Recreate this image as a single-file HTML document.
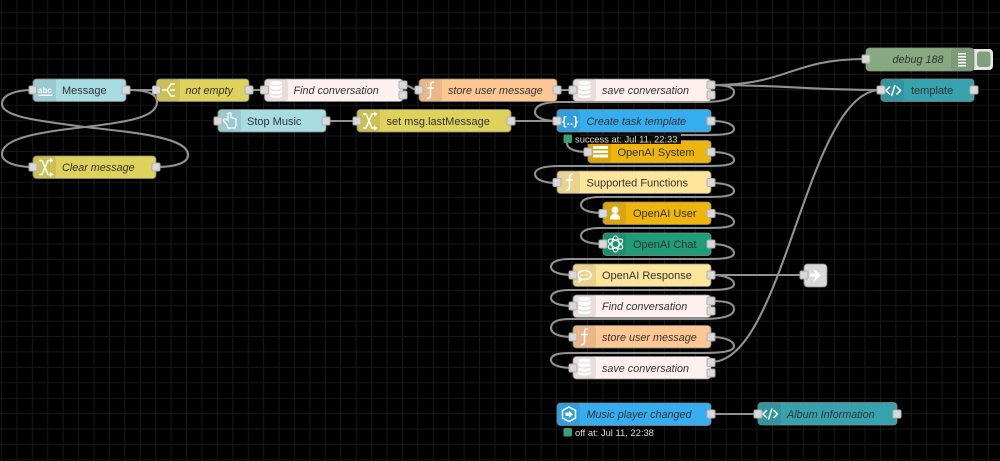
<!DOCTYPE html>
<html><head><meta charset="utf-8"><style>
html,body{margin:0;padding:0;background:#000;width:1000px;height:461px;overflow:hidden}
svg{display:block;filter:blur(.3px)}
text{font-family:"Liberation Sans",sans-serif;font-size:11px;fill:#333}
.i{font-style:italic;font-size:10.8px}
.w{fill:none;stroke:#929292;stroke-width:2.1}
.n{stroke:#8a8a8a;stroke-width:.8}
.s{fill:rgba(0,0,0,.08)}
.p{fill:#d9d9d9;stroke:#b0b0b0;stroke-width:1}
.ic{fill:none;stroke:#fff;stroke-width:1.5}
.if{fill:#fff}
.st{fill:#ddd;font-size:9.4px}
</style></head><body>
<svg width="1000" height="461" viewBox="0 0 1000 461" xmlns="http://www.w3.org/2000/svg">
<defs>
<pattern id="g" x="1" y="12.2" width="15.42" height="15.42" patternUnits="userSpaceOnUse">
<path d="M.5 0V15.42M0 .5H15.42" stroke="#181818" stroke-width="1" fill="none"/>
</pattern>
</defs>
<rect width="1000" height="461" fill="#000"/>
<rect width="1000" height="461" fill="url(#g)"/>

<!-- wires -->
<g class="w">
<path d="M126 90H156"/>
<path d="M126 90C148 90 157 94 157 102C157 118 125 122 85 127C40 132 2 138 2 154C2 162 15 167 33 167"/>
<path d="M156 167C175 167 188 163 188 155C188 138 140 133 85 127C40 121 2 117 2 104C2 95 15 90 33 90"/>
<path d="M249 90H264"/>
<path d="M403 85C411 85 411 90 419 90"/>
<path d="M557 90H573"/>
<path d="M326 121H357"/>
<path d="M511 121H557"/>
<path d="M711 85C790 85 790 59 866 59"/>
<path d="M711 85C790 85 800 90 881 90"/>
<path d="M711 85C727 85 734 87 734 92C734 100 720 102 700 102H560C545 102 535 105 535 112C535 118 545 121 557 121"/>
<path d="M711 121C725 121 734 124 734 129C734 135 720 135 700 135H580"/>
<path d="M567 143C567 149 575 152 588 152"/>
<path d="M711 152C725 152 734 155 734 160C734 166 720 166 700 166H560C545 166 535 168 535 174C535 180 545 183 557 183"/>
<path d="M711 183C725 183 734 186 734 191C734 197 720 197 700 197H600C590 197 581 199 581 205C581 210 590 213 603 213"/>
<path d="M711 213C725 213 734 217 734 222C734 228 720 228 700 228H600C590 228 581 230 581 236C581 241 590 244 603 244"/>
<path d="M711 244C725 244 734 248 734 253C734 259 720 259 700 259H570C560 259 551 261 551 267C551 272 560 275 573 275"/>
<path d="M711 275H804"/>
<path d="M711 275C725 275 734 279 734 284C734 290 720 290 700 290H570C560 290 551 292 551 298C551 303 560 306 573 306"/>
<path d="M711 301C727 301 734 303 734 309C734 317 720 319 700 319H570C560 319 551 321 551 328C551 334 560 337 573 337"/>
<path d="M711 337C725 337 734 341 734 346C734 352 720 353 700 353H570C560 353 551 354 551 360C551 365 560 368 573 368"/>
<path d="M711 362C785 362 806 90 881 90"/>
<path d="M711 414H758"/>
</g>

<!-- debug button -->
<rect x="970" y="49" width="23" height="21" rx="4" fill="#e6e6e6"/>
<rect x="977" y="51.500" width="13.500" height="15.500" rx="3" fill="#7ea07a"/>

<!-- Message -->
<rect class="n" x="33" y="79" width="93" height="22.500" rx="3.500" fill="#a6dce2"/>
<path class="s" d="M36.500 79H56V101.500H36.500A3.500 3.500 0 0 1 33 98V82.500A3.500 3.500 0 0 1 36.500 79Z"/>
<text x="62" y="94">Message</text>
<text x="38" y="93" style="fill:#fff;font-size:8px;font-weight:bold">abc</text>
<rect class="if" x="38.500" y="94.500" width="14" height="1.500"/>
<rect class="p" x="29" y="86" width="7.500" height="8" rx="1.500"/><rect class="p" x="122" y="86" width="8" height="8" rx="1.500"/>

<!-- not empty -->
<rect class="n" x="156.500" y="79" width="92.500" height="22.500" rx="3.500" fill="#ded15c"/>
<rect class="s" x="157" y="79" width="23" height="22.500" rx="3"/>
<path class="ic" d="M162 90H167L171 84H175M167 90L171 96H175M170 90H175"/>
<text class="i" x="185.500" y="94">not empty</text>
<rect class="p" x="152.500" y="86" width="8" height="8" rx="1.500"/><rect class="p" x="245" y="86" width="8" height="8" rx="1.500"/>

<!-- Find conversation 1 -->
<rect class="n" x="264.500" y="79" width="138.500" height="22.500" rx="3.500" fill="#fdf0ef"/>
<rect class="s" x="265" y="79" width="23" height="22.500" rx="3"/>
<ellipse class="if" cx="276" cy="83" rx="6" ry="2"/><path class="if" d="M270 85V88.500Q276 91 282 88.500V85Q276 87.500 270 85ZM270 90V93Q276 95.500 282 93V90Q276 92.500 270 90ZM270 94.500V97Q276 99 282 97V94.500Q276 97 270 94.500Z"/>
<text class="i" x="293.500" y="94">Find conversation</text>
<rect class="p" x="260.500" y="86" width="8" height="8" rx="1.500"/><rect class="p" x="399" y="81" width="8" height="8" rx="1.500"/><rect class="p" x="399" y="91" width="8" height="8" rx="1.500"/>

<!-- store user message 1 -->
<rect class="n" x="419" y="79" width="138" height="22.500" rx="3.500" fill="#fdc794"/>
<rect class="s" x="419" y="79" width="23" height="22.500" rx="3"/>
<path class="ic" d="M434 82.500C431 81.500 430.500 84 430.500 86V95C430.500 97 430 98.500 427 98M427 88H434"/>
<text class="i" x="448" y="94">store user message</text>
<rect class="p" x="415" y="86" width="8" height="8" rx="1.500"/><rect class="p" x="553" y="86" width="8" height="8" rx="1.500"/>

<!-- save conversation 1 -->
<rect class="n" x="573" y="79" width="138" height="22.500" rx="3.500" fill="#fdf0ef"/>
<rect class="s" x="573" y="79" width="23" height="22.500" rx="3"/>
<ellipse class="if" cx="584.500" cy="83" rx="6" ry="2"/><path class="if" d="M578.500 85V88.500Q584.500 91 590.500 88.500V85Q584.500 87.500 578.500 85ZM578.500 90V93Q584.500 95.500 590.500 93V90Q584.500 92.500 578.500 90ZM578.500 94.500V97Q584.500 99 590.500 97V94.500Q584.500 97 578.500 94.500Z"/>
<text class="i" x="602" y="94">save conversation</text>
<rect class="p" x="569" y="86" width="8" height="8" rx="1.500"/><rect class="p" x="707" y="81" width="8" height="8" rx="1.500"/><rect class="p" x="707" y="91" width="8" height="8" rx="1.500"/>

<!-- Stop Music -->
<rect class="n" x="218" y="109.500" width="108" height="22.500" rx="3.500" fill="#a6dce2"/>
<rect class="s" x="218" y="109.500" width="23" height="22.500" rx="3"/>
<path class="ic" style="stroke-width:1.200" d="M227 125L223 120L225 118.500L228 120.500V113.500Q229.500 112 231 113.500V117.500L236 119V125L235 128H228Z"/>
<text x="247" y="125">Stop Music</text>
<rect class="p" x="214" y="117" width="8" height="8" rx="1.500"/><rect class="p" x="322" y="117" width="8" height="8" rx="1.500"/>

<!-- set msg.lastMessage -->
<rect class="n" x="357" y="109.500" width="154" height="22.500" rx="3.500" fill="#ded15c"/>
<rect class="s" x="357" y="109.500" width="23" height="22.500" rx="3"/>
<path class="ic" d="M363 114H366L372 128H375M363 128H366L372 114H375"/><path class="if" d="M374 111.500L377.500 114L374 116.500ZM374 125.500L377.500 128L374 130.500Z"/>
<text x="386.500" y="125">set msg.lastMessage</text>
<rect class="p" x="353" y="117" width="8" height="8" rx="1.500"/><rect class="p" x="507" y="117" width="8" height="8" rx="1.500"/>

<!-- Clear message -->
<rect class="n" x="33" y="156" width="123" height="22.500" rx="3.500" fill="#ded15c"/>
<rect class="s" x="33" y="156" width="23" height="22.500" rx="3"/>
<path class="ic" d="M39 160.500H42L48 174.500H51M39 174.500H42L48 160.500H51"/><path class="if" d="M50 158L53.500 160.500L50 163ZM50 172L53.500 174.500L50 177Z"/>
<text class="i" x="62" y="171">Clear message</text>
<rect class="p" x="29" y="163" width="8" height="8" rx="1.500"/><rect class="p" x="152" y="163" width="8" height="8" rx="1.500"/>

<!-- Create task template -->
<rect class="n" x="557" y="109.500" width="154" height="22.500" rx="3.500" fill="#36adef"/>
<rect class="s" x="557" y="109.500" width="23" height="22.500" rx="3"/>
<text x="562" y="125" style="fill:#fff;font-size:12px;font-weight:bold">{..}</text>
<text class="i" x="586.500" y="125">Create task template</text>
<rect class="p" x="553" y="117" width="8" height="8" rx="1.500"/><rect class="p" x="707" y="117" width="8" height="8" rx="1.500"/>

<!-- OpenAI System -->
<rect class="n" x="588" y="140.500" width="123" height="22.500" rx="3.500" fill="#eeb50f"/>
<rect class="s" x="588" y="140.500" width="23" height="22.500" rx="3"/>
<path class="if" d="M593 146H608V149H593ZM593 150.500H608V153H593ZM593 154.500H608V157.500H593Z"/>
<text x="617.500" y="156">OpenAI System</text>
<rect class="p" x="584" y="148" width="8" height="8" rx="1.500"/><rect class="p" x="707" y="148" width="8" height="8" rx="1.500"/>

<!-- status 1 -->
<rect x="573" y="134" width="108" height="10" fill="#000" opacity=".85"/>
<rect x="563.500" y="134.500" width="8.500" height="8.500" rx="1.500" fill="#3f9e78"/>
<text class="st" x="575" y="142.500">success at: Jul 11, 22:33</text>

<!-- Supported Functions -->
<rect class="n" x="557" y="171" width="154" height="22.500" rx="3.500" fill="#fde59b"/>
<rect class="s" x="557" y="171" width="23" height="22.500" rx="3"/>
<path class="ic" d="M573 174.500C570 173.500 569.500 176 569.500 178V187C569.500 189 569 190.500 566 190M566 180H573"/>
<text x="586.500" y="186.500">Supported Functions</text>
<rect class="p" x="553" y="178.500" width="8" height="8" rx="1.500"/><rect class="p" x="707" y="178.500" width="8" height="8" rx="1.500"/>

<!-- OpenAI User -->
<rect class="n" x="603" y="202" width="108" height="22.500" rx="3.500" fill="#eeb50f"/>
<rect class="s" x="603" y="202" width="23" height="22.500" rx="3"/>
<circle class="if" cx="615" cy="210" r="3.500"/><path class="if" d="M610 219.500Q610 213.500 615 213.500Q620 213.500 620 219.500Z"/>
<text x="633" y="217">OpenAI User</text>
<rect class="p" x="599" y="209.500" width="8" height="8" rx="1.500"/><rect class="p" x="707" y="209.500" width="8" height="8" rx="1.500"/>

<!-- OpenAI Chat -->
<rect class="n" x="603" y="233" width="108" height="22.500" rx="3.500" fill="#1f9c78"/>
<rect class="s" x="603" y="233" width="23" height="22.500" rx="3"/>
<g class="ic" style="stroke-width:1.100"><ellipse cx="615.500" cy="244" rx="3.500" ry="8"/><ellipse cx="615.500" cy="244" rx="3.500" ry="8" transform="rotate(60 615.500 244)"/><ellipse cx="615.500" cy="244" rx="3.500" ry="8" transform="rotate(120 615.500 244)"/></g>
<text x="633" y="248">OpenAI Chat</text>
<rect class="p" x="599" y="240" width="8" height="8" rx="1.500"/><rect class="p" x="707" y="240" width="8" height="8" rx="1.500"/>

<!-- OpenAI Response -->
<rect class="n" x="573" y="264" width="138" height="22.500" rx="3.500" fill="#fde59b"/>
<rect class="s" x="573" y="264" width="23" height="22.500" rx="3"/>
<ellipse class="ic" cx="584.500" cy="275" rx="6.500" ry="4.500"/><path class="if" d="M579 278L578.500 283L584 279Z"/><circle class="if" cx="582" cy="275" r=".8"/><circle class="if" cx="584.500" cy="275" r=".8"/><circle class="if" cx="587" cy="275" r=".8"/>
<text x="602" y="279">OpenAI Response</text>
<rect class="p" x="569" y="271" width="8" height="8" rx="1.500"/><rect class="p" x="707" y="271" width="8" height="8" rx="1.500"/>

<!-- Find conversation 2 -->
<rect class="n" x="573" y="295" width="138" height="22.500" rx="3.500" fill="#fdf0ef"/>
<rect class="s" x="573" y="295" width="23" height="22.500" rx="3"/>
<ellipse class="if" cx="584.500" cy="299" rx="6" ry="2"/><path class="if" d="M578.500 301V304.500Q584.500 307 590.500 304.500V301Q584.500 303.500 578.500 301ZM578.500 306V309Q584.500 311.500 590.500 309V306Q584.500 308.500 578.500 306ZM578.500 310.500V313Q584.500 315 590.500 313V310.500Q584.500 313 578.500 310.500Z"/>
<text class="i" x="602" y="310">Find conversation</text>
<rect class="p" x="569" y="302" width="8" height="8" rx="1.500"/><rect class="p" x="707" y="297" width="8" height="8" rx="1.500"/><rect class="p" x="707" y="307" width="8" height="8" rx="1.500"/>

<!-- store user message 2 -->
<rect class="n" x="573" y="325.500" width="138" height="22.500" rx="3.500" fill="#fdc794"/>
<rect class="s" x="573" y="325.500" width="23" height="22.500" rx="3"/>
<path class="ic" d="M588 329C585 328 584.500 330.500 584.500 332.500V341.500C584.500 343.500 584 345 581 344.500M581 334.500H588"/>
<text class="i" x="602" y="341">store user message</text>
<rect class="p" x="569" y="333" width="8" height="8" rx="1.500"/><rect class="p" x="707" y="333" width="8" height="8" rx="1.500"/>

<!-- save conversation 2 -->
<rect class="n" x="573" y="356.500" width="138" height="22.500" rx="3.500" fill="#fdf0ef"/>
<rect class="s" x="573" y="356.500" width="23" height="22.500" rx="3"/>
<ellipse class="if" cx="584.500" cy="360.500" rx="6" ry="2"/><path class="if" d="M578.500 362.500V366Q584.500 368.500 590.500 366V362.500Q584.500 365 578.500 362.500ZM578.500 367.500V370.500Q584.500 373 590.500 370.500V367.500Q584.500 370 578.500 367.500ZM578.500 372V374.500Q584.500 376.500 590.500 374.500V372Q584.500 374.500 578.500 372Z"/>
<text class="i" x="602" y="372">save conversation</text>
<rect class="p" x="569" y="364" width="8" height="8" rx="1.500"/><rect class="p" x="707" y="358.500" width="8" height="8" rx="1.500"/><rect class="p" x="707" y="369" width="8" height="8" rx="1.500"/>

<!-- Music player changed -->
<rect class="n" x="557" y="403" width="154" height="22.500" rx="3.500" fill="#36adef"/>
<rect class="s" x="557" y="403" width="23" height="22.500" rx="3"/>
<path class="ic" d="M569 407L575.500 410.500V418L569 421.500L562.500 418V410.500Z"/><path class="if" d="M565.500 412.500H569V410.500L573 414.500L569 418V416H565.500Z"/>
<text class="i" x="586.500" y="418">Music player changed</text>
<rect class="p" x="707" y="410" width="8" height="8" rx="1.500"/>
<rect x="563.500" y="428" width="8.500" height="8.500" rx="1.500" fill="#3f9e78"/>
<text class="st" x="575" y="436">off at: Jul 11, 22:38</text>

<!-- Album Information -->
<rect class="n" x="758" y="402.500" width="139" height="22.500" rx="3.500" fill="#36a2ae"/>
<rect class="s" x="758" y="402.500" width="23" height="22.500" rx="3"/>
<path class="ic" d="M767 410L763 414L767 418M773.500 410L777.500 414L773.500 418M772 408.500L768.500 419.500"/>
<text class="i" x="787" y="418">Album Information</text>
<rect class="p" x="754" y="410" width="8" height="8" rx="1.500"/><rect class="p" x="893" y="410" width="8" height="8" rx="1.500"/>

<!-- link out -->
<rect class="n" x="804" y="264" width="23" height="23" rx="3.500" fill="#d9d9d9"/>
<path class="if" d="M813 268.500L821 275L813 282.500L815.500 276.500H810V273.500H815.500Z"/>
<rect class="p" x="800" y="271" width="8" height="8" rx="1.500"/>

<!-- debug -->
<rect class="n" x="866" y="48" width="108" height="23" rx="3.500" fill="#87a980"/>
<rect class="s" x="951" y="48" width="23" height="23" rx="3"/>
<path class="if" d="M958 53H966V54.500H958ZM958 56H966V57.500H958ZM958 59H966V60.500H958ZM958 62H966V63.500H958ZM958 65H966V66.500H958Z"/>
<text class="i" x="892.500" y="63">debug 188</text>
<rect class="p" x="862" y="55" width="8" height="8" rx="1.500"/>

<!-- template -->
<rect class="n" x="881" y="79" width="93" height="22.500" rx="3.500" fill="#36a2ae"/>
<rect class="s" x="881" y="79" width="23" height="22.500" rx="3"/>
<path class="ic" d="M890 86.500L886 90.500L890 94.500M896.500 86.500L900.500 90.500L896.500 94.500M895 85L891.500 96"/>
<text x="911" y="94">template</text>
<rect class="p" x="877" y="86" width="8" height="8" rx="1.500"/><rect class="p" x="970" y="86" width="8" height="8" rx="1.500"/>
</svg>
</body></html>
